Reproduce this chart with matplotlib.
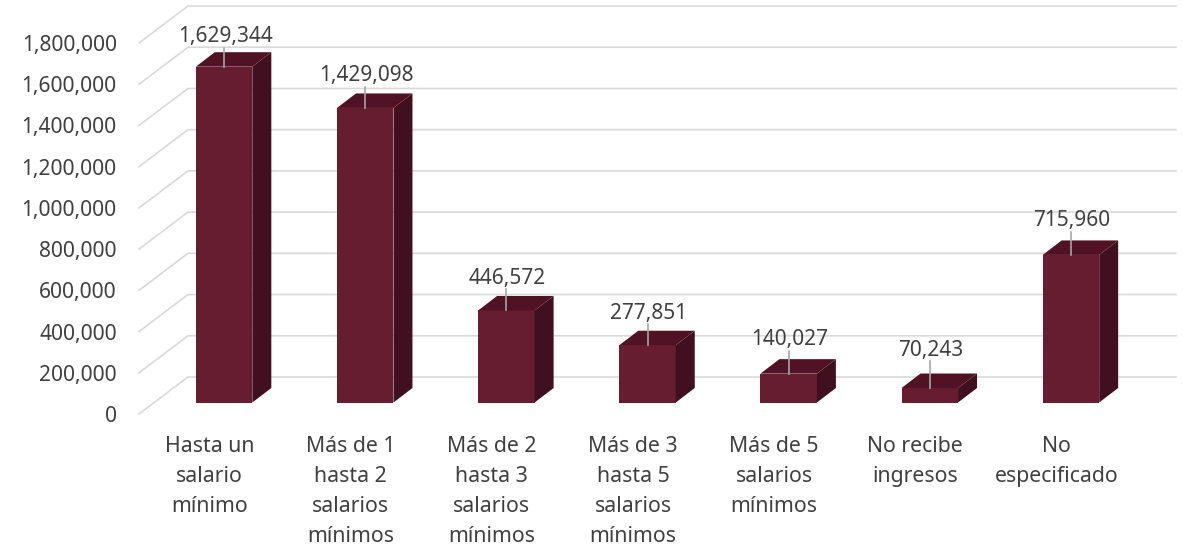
import matplotlib
matplotlib.use('Agg')
import matplotlib.pyplot as plt
from matplotlib.patches import Polygon

categorias = ['Hasta un\nsalario\nmínimo', 'Más de 1\nhasta 2\nsalarios\nmínimos',
              'Más de 2\nhasta 3\nsalarios\nmínimos', 'Más de 3\nhasta 5\nsalarios\nmínimos',
              'Más de 5\nsalarios\nmínimos', 'No recibe\ningresos', 'No\nespecificado']
valores = [1629344, 1429098, 446572, 277851, 140027, 70243, 715960]
marcas_y = [0, 200000, 400000, 600000, 800000, 1000000, 1200000, 1400000, 1600000, 1800000]

plt.rcParams['font.family'] = ['Noto Sans', 'DejaVu Sans']
gris = '#404040'

fig = plt.figure(figsize=(11.83, 5.46), dpi=100)
# ejes = piso frontal del grafico, en pixeles de la imagen
izq, der, base, tope = 139, 1127, 414, 43
ax = fig.add_axes([izq / 1183, 1 - base / 546, (der - izq) / 1183, (base - tope) / 546])
ax.set_xlim(-0.5, 6.5)
ax.set_ylim(0, 1800000)
ax.patch.set_alpha(0)
for s in ax.spines.values():
    s.set_visible(False)

px_x = 7 / (der - izq)
px_y = 1800000 / (base - tope)

# profundidad de la pared y de las barras
fondo_x, fondo_y = 49 * px_x, 37 * px_y
barra_dx, barra_dy = 14.5 * px_x, 11.5 * px_y
prof_x, prof_y = 19 * px_x, 14.5 * px_y
ancho = 56.5 * px_x

# altura de cada etiqueta sobre su barra, en pixeles
alturas = [31, 33, 33, 33, 35, 39, 35]

for v in marcas_y:
    ax.plot([-0.5, -0.5 + fondo_x, 6.5 + fondo_x], [v, v + fondo_y, v + fondo_y],
            color='#D9D9D9', lw=1.2, clip_on=False, zorder=1)

for i, v in enumerate(valores):
    x0 = i + barra_dx - ancho / 2
    x1 = x0 + ancho
    y0 = barra_dy
    y1 = barra_dy + v
    ax.add_patch(Polygon([(x0, y0), (x1, y0), (x1, y1), (x0, y1)], fc='#671D30', ec='none', zorder=3, clip_on=False))
    ax.add_patch(Polygon([(x1, y0), (x1 + prof_x, y0 + prof_y), (x1 + prof_x, y1 + prof_y), (x1, y1)],
                         fc='#411020', ec='none', zorder=3, clip_on=False))
    ax.add_patch(Polygon([(x0, y1), (x1, y1), (x1 + prof_x, y1 + prof_y), (x0 + prof_x, y1 + prof_y)],
                         fc='#521225', ec='none', zorder=3, clip_on=False))
    xc = i + barra_dx
    ax.plot([xc, xc], [y1, y1 + (alturas[i] - 12) * px_y], color='#A6A6A6', lw=1.2, zorder=4, clip_on=False)
    ax.text(xc + px_x, y1 + (alturas[i] - 1) * px_y, f'{v:,}', ha='center', va='center', fontsize=15, color=gris, zorder=5)

ax.set_yticks(marcas_y)
ax.set_yticklabels([f'{v:,}' for v in marcas_y], fontsize=15.1, color=gris)
ax.set_xticks(range(len(categorias)))
ax.set_xticklabels(categorias, fontsize=15.3, color=gris, linespacing=1.58)
ax.tick_params(axis='y', length=0, pad=16)
ax.tick_params(axis='x', length=0, pad=15.5)

fig.savefig('out.png', dpi=100, facecolor='white')
